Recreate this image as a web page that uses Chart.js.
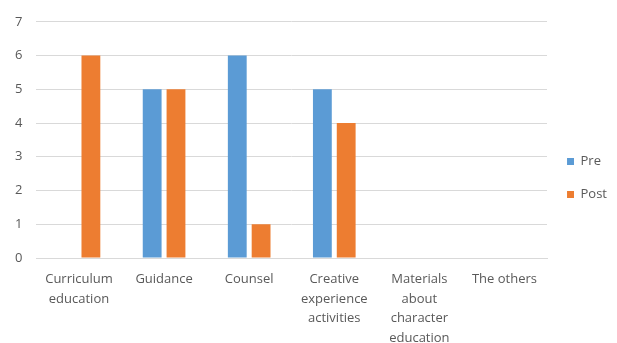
<!DOCTYPE html>
<html>
<head>
<meta charset="utf-8">
<script src="https://cdn.jsdelivr.net/npm/chart.js@4/dist/chart.umd.min.js"></script>
<style>
  html, body { margin: 0; padding: 0; background: #fff; }
  #wrap { width: 617px; height: 343px; position: relative; }
</style>
</head>
<body>
<div id="wrap"><canvas id="myChart"></canvas></div>
<script>
// categories, wrapped the way they show under the axis
const categories = [
  ['Curriculum', 'education'],
  'Guidance',
  'Counsel',
  ['Creative', 'experience', 'activities'],
  ['Materials', 'about', 'character', 'education'],
  'The others'
];
const preValues = [0, 5, 6, 5, 0, 0];
const postValues = [6, 5, 1, 4, 0, 0];

const FONT = "'Open Sans', 'Noto Sans', sans-serif";

const data = {
  labels: categories,
  datasets: [{
    label: 'Pre',
    data: preValues,
    backgroundColor: '#5b9bd5',
    categoryPercentage: 0.56,
    barPercentage: 0.79
  }, {
    label: 'Post',
    data: postValues,
    backgroundColor: '#ed7d31',
    categoryPercentage: 0.56,
    barPercentage: 0.79
  }]
};

const config = {
  type: 'bar',
  data,
  options: {
    responsive: true,
    maintainAspectRatio: false,
    animation: false,
    layout: { padding: { top: 13, left: 1, right: 0, bottom: 0 } },
    plugins: {
      tooltip: { enabled: false },
      legend: {
        position: 'right',
        labels: {
          boxWidth: 7,
          boxHeight: 7,
          padding: 20,
          color: '#595959',
          font: { family: FONT, size: 13 }
        }
      }
    },
    scales: {
      x: {
        grid: { display: false, drawTicks: false },
        border: { color: '#d9d9d9' },
        ticks: {
          color: '#595959',
          padding: 12,
          maxRotation: 0,
          autoSkip: false,
          font: { family: FONT, size: 13, lineHeight: 1.5 }
        },
        // the last wrapped label runs off the bottom edge in the original
        afterFit: (scale) => { scale.height = 85; }
      },
      y: {
        min: 0,
        max: 7,
        grid: { color: '#d9d9d9', drawTicks: false },
        border: { display: false },
        ticks: {
          stepSize: 1,
          color: '#595959',
          padding: 14,
          font: { family: FONT, size: 13 }
        }
      }
    }
  }
};

const myChart = new Chart(document.getElementById('myChart'), config);
</script>
</body>
</html>
